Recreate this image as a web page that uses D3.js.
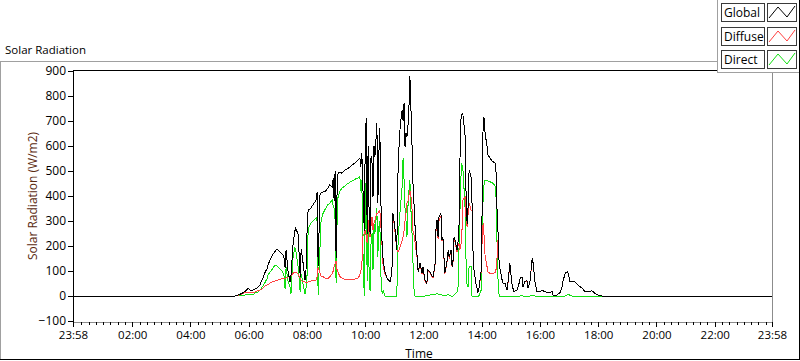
<!DOCTYPE html>
<html><head><meta charset="utf-8">
<script src="https://cdn.jsdelivr.net/npm/d3@7"></script>
<style>
body{margin:0;background:#fff}
svg{display:block;font-family:"Open Sans","Noto Sans",sans-serif}
</style>
</head><body>
<svg id="c" width="800" height="361"></svg>
<script>
// time of each sample, minutes after midnight (start of axis is 23:58 of the previous day = -2)
const minutes = [-2,332,342,352,359,365,369,373,377,383,389,394,398,400,404,410,414,418,420,424,427,431,433,435,437,441,445,447,451,455,457,462,466,468,472,476,478,480,482,484,488,492,499,501,503,507,509,513,517,523,527,532,534,536,538,540,542,544,548,552,558,565,573,579,585,589,591,593,595,598,600,602,604,606,608,610,612,614,616,618,620,622,624,626,628,630,633,635,637,639,641,645,651,655,657,661,665,668,672,676,678,680,682,684,686,688,690,692,694,696,698,701,703,707,709,713,717,719,723,727,729,733,738,740,744,746,748,750,752,756,758,760,764,768,771,773,777,779,781,783,785,789,791,793,795,797,799,801,806,808,810,812,814,818,820,822,824,828,832,834,839,841,843,845,847,851,853,857,863,869,871,874,876,878,882,884,888,892,894,898,902,906,913,917,919,923,925,929,933,935,939,944,946,950,954,960,964,970,977,985,987,995,1001,1005,1007,1012,1016,1018,1022,1026,1032,1038,1047,1053,1059,1067,1073,1080,1088,1438];
const globalRad = [0,0,7,17,31,20,24,28,31,44,71,96,110,125,144,168,178,188,185,177,172,164,150,112,185,100,56,80,200,260,272,244,76,188,132,64,104,250,336,345,352,364,384,416,120,412,412,416,417,432,444,437,470,380,500,151,420,491,495,491,504,511,524,533,544,551,517,571,450,260,600,711,250,600,331,250,560,531,397,600,557,620,691,371,560,671,304,200,140,117,95,71,57,91,331,277,184,544,677,744,700,771,597,650,637,677,750,880,760,637,464,350,264,157,97,131,91,117,64,51,104,97,77,77,131,277,304,237,317,331,224,237,91,131,184,157,184,117,144,237,224,184,211,251,531,704,724,731,637,371,290,360,504,477,371,184,104,51,17,24,104,371,715,711,651,597,564,551,537,531,371,237,124,104,64,51,51,24,51,131,51,17,24,51,71,77,37,57,64,31,51,151,131,51,17,17,24,17,13,17,4,4,13,31,57,91,97,91,57,57,57,44,31,17,17,21,11,4,0,0];
const diffuseRad = [0,0,5,13,14,15,16,16,20,24,30,40,44,46,52,58,60,64,64,68,68,70,70,72,72,76,80,80,90,96,96,88,70,64,57,56,56,56,56,58,60,62,64,77,116,90,80,77,72,70,77,90,100,120,130,140,104,95,77,72,67,67,67,68,71,84,100,117,237,250,264,240,211,304,250,237,280,317,264,290,304,320,330,331,340,344,260,190,117,100,85,71,57,91,331,264,184,177,197,220,237,260,300,330,371,380,400,424,400,371,264,240,211,150,97,125,88,110,60,48,100,95,75,75,128,270,295,230,300,320,220,230,90,128,180,150,180,115,140,230,215,175,200,211,184,200,237,384,397,300,277,331,371,344,344,184,104,51,17,24,100,237,291,237,157,117,97,90,88,97,137,237,124,104,64,51,51,24,48,128,51,17,24,51,70,77,37,57,63,31,51,148,131,51,17,17,24,17,13,17,4,4,13,31,57,90,97,91,57,57,57,44,31,17,17,21,11,4,0,0];
const directRad = [0,0,2,4,8,4,6,12,14,22,40,56,70,85,95,112,124,122,116,110,104,92,76,28,116,60,36,8,150,196,180,116,16,88,48,8,30,76,240,276,292,300,312,300,4,200,300,330,345,365,371,384,360,351,300,51,300,397,420,431,440,451,460,467,472,477,420,464,200,0,340,477,60,277,100,20,211,250,104,291,250,300,350,157,277,300,37,10,20,10,0,0,0,0,0,0,0,237,344,437,551,464,350,300,237,357,420,464,350,277,157,4,0,0,0,0,0,0,0,4,4,4,8,8,4,8,12,8,4,8,4,4,4,4,8,4,0,0,0,4,8,17,24,171,331,470,524,517,344,104,37,37,117,117,0,0,0,0,0,0,24,264,397,451,464,464,460,457,451,437,251,37,0,0,0,0,0,0,0,0,0,0,0,0,0,2,0,0,0,0,0,4,4,0,0,0,0,0,0,0,0,0,0,0,0,0,4,8,2,0,0,0,0,0,0,0,0,0,0,0];

const seriesNames = ["Global","Diffuse","Direct"];
const seriesColors = ["#000000","#ff4040","#12e012"];
const yTicks = [-100,0,100,200,300,400,500,600,700,800,900];
const xTickMinutes = [-2,120,240,360,480,600,720,840,960,1080,1200,1320,1438];
const xTickLabels = ["23:58","02:00","04:00","06:00","08:00","10:00","12:00","14:00","16:00","18:00","20:00","22:00","23:58"];
const xMinorMinutes = d3.range(15,1438,15).filter(m => m % 120 !== 0);

const svg = d3.select("#c");
const L = 73, R = 772, T = 70, B = 322;
const x = d3.scaleLinear().domain([-2,1438]).range([L, R]);
const y = d3.scaleLinear().domain([-100,900]).range([321, 71]);

// outer frame
svg.append("line").attr("x1",0).attr("x2",717).attr("y1",61.5).attr("y2",61.5).attr("stroke","#a0a0a0");
svg.append("line").attr("x1",0.5).attr("x2",0.5).attr("y1",61).attr("y2",360).attr("stroke","#a0a0a0");
svg.append("line").attr("x1",0).attr("x2",800).attr("y1",359.5).attr("y2",359.5).attr("stroke","#000");
svg.append("line").attr("x1",799.5).attr("x2",799.5).attr("y1",0).attr("y2",360).attr("stroke","#000");

svg.append("text").attr("x",5).attr("y",54).attr("font-size",11.5).attr("fill","#000").text("Solar Radiation");

// plot frame
svg.append("line").attr("x1",L).attr("x2",717).attr("y1",T+0.5).attr("y2",T+0.5).attr("stroke","#000");
svg.append("line").attr("x1",L+0.5).attr("x2",L+0.5).attr("y1",T).attr("y2",B+1).attr("stroke","#000");
svg.append("line").attr("x1",L).attr("x2",R+1).attr("y1",B+0.5).attr("y2",B+0.5).attr("stroke","#8c8c8c");
svg.append("line").attr("x1",R+0.5).attr("x2",R+0.5).attr("y1",72).attr("y2",B+1).attr("stroke","#8c8c8c");

svg.append("clipPath").attr("id","pc").append("rect").attr("x",L+1).attr("y",T+1).attr("width",R-L-1).attr("height",B-T-1);
const plot = svg.append("g").attr("clip-path","url(#pc)");
const lineGen = vals => d3.line().x((d,i)=>x(minutes[i])).y(d=>y(d))(vals);
const data = [globalRad, diffuseRad, directRad];
[2,1,0].forEach(k => {
  plot.append("path").attr("d", lineGen(data[k])).attr("fill","none")
    .attr("stroke", seriesColors[k]).attr("stroke-width",1).attr("shape-rendering","crispEdges");
});

// y axis
const yAx = svg.append("g").attr("transform",`translate(${L},0)`)
  .call(d3.axisLeft(y).tickValues(yTicks).tickSize(5).tickPadding(2));
yAx.select(".domain").remove();
yAx.selectAll("line").attr("stroke","#000").attr("shape-rendering","crispEdges");
yAx.selectAll("text").attr("font-size",12).attr("font-family",'"Open Sans","Noto Sans",sans-serif').attr("fill","#000");

// x axis
const xMinor = svg.append("g").attr("transform",`translate(0,${B})`)
  .call(d3.axisBottom(x).tickValues(xMinorMinutes).tickSize(3).tickFormat(""));
xMinor.select(".domain").remove();
xMinor.selectAll("line").attr("stroke","#000").attr("shape-rendering","crispEdges");
const xAx = svg.append("g").attr("transform",`translate(0,${B})`)
  .call(d3.axisBottom(x).tickValues(xTickMinutes).tickSize(5).tickPadding(4).tickFormat((d,i)=>xTickLabels[i]));
xAx.select(".domain").remove();
xAx.selectAll("line").attr("stroke","#000").attr("shape-rendering","crispEdges");
xAx.selectAll("text").attr("font-size",11.5).attr("font-family",'"Open Sans","Noto Sans",sans-serif').attr("fill","#000");

svg.append("text").attr("x",419).attr("y",358).attr("text-anchor","middle").attr("font-size",12).attr("fill","#000").text("Time");
svg.append("text").attr("transform","translate(37,196) rotate(-90)").attr("text-anchor","middle")
  .attr("font-size",12).attr("fill","#5a2a10").text("Solar Radiation (W/m2)");

// legend
svg.append("rect").attr("x",717).attr("y",0).attr("width",83).attr("height",73).attr("fill","#fff");
svg.append("line").attr("x1",717.5).attr("x2",717.5).attr("y1",0).attr("y2",73).attr("stroke","#a0a0a0");
svg.append("line").attr("x1",717).attr("x2",800).attr("y1",72.5).attr("y2",72.5).attr("stroke","#a0a0a0");
svg.append("line").attr("x1",799.5).attr("x2",799.5).attr("y1",0).attr("y2",73).attr("stroke","#000");
const lg = svg.append("g");
seriesNames.forEach((name,i) => {
  const top = 3 + i*23.5;
  const g = lg.append("g").attr("transform",`translate(0,${Math.round(top)})`);
  g.append("rect").attr("x",721.5).attr("y",0.5).attr("width",43).attr("height",18).attr("fill","#fff").attr("stroke","#3a3a3a");
  g.append("text").attr("x",724).attr("y",14).attr("font-size",12).attr("fill","#000").text(name);
  g.append("rect").attr("x",767.5).attr("y",0.5).attr("width",29).attr("height",18).attr("fill","#fff").attr("stroke","#3a3a3a");
  g.append("path").attr("d","M769,15L778,4L787,14L795,3").attr("fill","none").attr("stroke",seriesColors[i]).attr("stroke-width",1);
});
</script>
</body></html>
